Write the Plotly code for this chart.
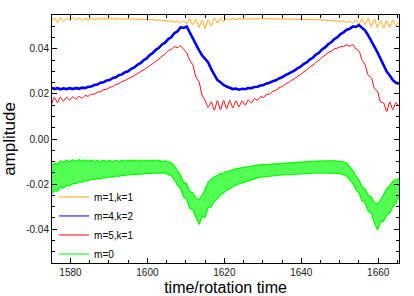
import numpy as np
import plotly.graph_objects as go

# sample times: regular grid starting at 1575.0, step 0.8 (rotation times)
t_start = 1575.0
t_step = 0.8

orange_m1k1 = [
    0.0525, 0.0537, 0.0518, 0.0539, 0.0524, 0.0537, 0.0528, 0.0539, 0.0530, 0.0537,
    0.0528, 0.0535, 0.0530, 0.0536, 0.0531, 0.0535, 0.0532, 0.0536, 0.0532, 0.0535,
    0.0533, 0.0535, 0.0533, 0.0535, 0.0532, 0.0534, 0.0532, 0.0534, 0.0531, 0.0533,
    0.0530, 0.0532, 0.0529, 0.0531, 0.0527, 0.0529, 0.0525, 0.0527, 0.0522, 0.0526,
    0.0519, 0.0524, 0.0516, 0.0525, 0.0513, 0.0534, 0.0508, 0.0532, 0.0496, 0.0528,
    0.0492, 0.0530, 0.0502, 0.0537, 0.0516, 0.0536, 0.0523, 0.0536, 0.0528, 0.0536,
    0.0530, 0.0536, 0.0532, 0.0535, 0.0533, 0.0535, 0.0533, 0.0535, 0.0534, 0.0535,
    0.0533, 0.0535, 0.0533, 0.0534, 0.0533, 0.0534, 0.0532, 0.0534, 0.0532, 0.0533,
    0.0531, 0.0533, 0.0531, 0.0532, 0.0530, 0.0531, 0.0529, 0.0530, 0.0528, 0.0529,
    0.0526, 0.0528, 0.0524, 0.0526, 0.0521, 0.0525, 0.0518, 0.0524, 0.0515, 0.0528,
    0.0511, 0.0535, 0.0507, 0.0537, 0.0500, 0.0532, 0.0495, 0.0528, 0.0493, 0.0526,
    0.0497, 0.0528, 0.0505, 0.0520,
]

blue_m4k2 = [
    0.0228, 0.0222, 0.0226, 0.0221, 0.0225, 0.0222, 0.0226, 0.0222, 0.0227, 0.0223,
    0.0228, 0.0226, 0.0232, 0.0233, 0.0240, 0.0242, 0.0250, 0.0252, 0.0260, 0.0262,
    0.0271, 0.0274, 0.0284, 0.0287, 0.0297, 0.0301, 0.0312, 0.0318, 0.0330, 0.0337,
    0.0350, 0.0358, 0.0373, 0.0382, 0.0396, 0.0405, 0.0420, 0.0428, 0.0444, 0.0452,
    0.0470, 0.0478, 0.0496, 0.0494, 0.0500, 0.0472, 0.0450, 0.0420, 0.0395, 0.0372,
    0.0355, 0.0340, 0.0310, 0.0285, 0.0262, 0.0252, 0.0240, 0.0233, 0.0228, 0.0222,
    0.0224, 0.0219, 0.0223, 0.0221, 0.0226, 0.0226, 0.0231, 0.0232, 0.0238, 0.0240,
    0.0247, 0.0250, 0.0257, 0.0261, 0.0269, 0.0274, 0.0283, 0.0289, 0.0298, 0.0304,
    0.0314, 0.0321, 0.0333, 0.0340, 0.0353, 0.0361, 0.0375, 0.0383, 0.0398, 0.0407,
    0.0421, 0.0430, 0.0444, 0.0452, 0.0466, 0.0474, 0.0486, 0.0490, 0.0500, 0.0498,
    0.0506, 0.0492, 0.0482, 0.0460, 0.0438, 0.0410, 0.0385, 0.0355, 0.0330, 0.0300,
    0.0282, 0.0262, 0.0250, 0.0245,
]

red_m5k1 = [
    0.0148, 0.0185, 0.0162, 0.0186, 0.0168, 0.0186, 0.0172, 0.0188, 0.0176, 0.0190,
    0.0182, 0.0193, 0.0190, 0.0199, 0.0199, 0.0208, 0.0210, 0.0219, 0.0221, 0.0230,
    0.0233, 0.0242, 0.0246, 0.0255, 0.0260, 0.0268, 0.0274, 0.0283, 0.0290, 0.0299,
    0.0307, 0.0316, 0.0326, 0.0335, 0.0346, 0.0355, 0.0368, 0.0377, 0.0392, 0.0398,
    0.0410, 0.0406, 0.0414, 0.0398, 0.0384, 0.0350, 0.0330, 0.0275, 0.0255, 0.0195,
    0.0172, 0.0140, 0.0165, 0.0128, 0.0170, 0.0130, 0.0172, 0.0135, 0.0172, 0.0138,
    0.0170, 0.0143, 0.0170, 0.0150, 0.0174, 0.0160, 0.0180, 0.0172, 0.0188, 0.0185,
    0.0198, 0.0200, 0.0212, 0.0216, 0.0227, 0.0233, 0.0243, 0.0250, 0.0260, 0.0268,
    0.0278, 0.0287, 0.0298, 0.0307, 0.0319, 0.0328, 0.0341, 0.0350, 0.0363, 0.0372,
    0.0384, 0.0390, 0.0400, 0.0404, 0.0410, 0.0412, 0.0418, 0.0412, 0.0420, 0.0400,
    0.0392, 0.0350, 0.0330, 0.0282, 0.0272, 0.0225, 0.0212, 0.0165, 0.0160, 0.0122,
    0.0165, 0.0130, 0.0162, 0.0145,
]

green_m0_upper = [
    -0.0120, -0.0108, -0.0112, -0.0098, -0.0104, -0.0094, -0.0100, -0.0093, -0.0099, -0.0092,
    -0.0098, -0.0093, -0.0099, -0.0094, -0.0100, -0.0095, -0.0100, -0.0095, -0.0100, -0.0095,
    -0.0100, -0.0095, -0.0099, -0.0094, -0.0099, -0.0094, -0.0098, -0.0094, -0.0098, -0.0094,
    -0.0098, -0.0094, -0.0098, -0.0094, -0.0098, -0.0095, -0.0099, -0.0097, -0.0102, -0.0106,
    -0.0120, -0.0140, -0.0160, -0.0190, -0.0200, -0.0232, -0.0240, -0.0262, -0.0270, -0.0250,
    -0.0225, -0.0192, -0.0182, -0.0168, -0.0163, -0.0153, -0.0151, -0.0144, -0.0141, -0.0136,
    -0.0133, -0.0130, -0.0127, -0.0124, -0.0122, -0.0120, -0.0118, -0.0116, -0.0115, -0.0113,
    -0.0112, -0.0111, -0.0110, -0.0108, -0.0107, -0.0106, -0.0105, -0.0104, -0.0103, -0.0102,
    -0.0102, -0.0101, -0.0100, -0.0100, -0.0099, -0.0099, -0.0098, -0.0098, -0.0097, -0.0097,
    -0.0097, -0.0097, -0.0097, -0.0098, -0.0099, -0.0101, -0.0108, -0.0122, -0.0140, -0.0165,
    -0.0182, -0.0212, -0.0222, -0.0250, -0.0258, -0.0282, -0.0290, -0.0272, -0.0248, -0.0222,
    -0.0208, -0.0188, -0.0183, -0.0175,
]

green_m0_lower = [
    -0.0245, -0.0230, -0.0232, -0.0215, -0.0218, -0.0205, -0.0208, -0.0197, -0.0199, -0.0190,
    -0.0192, -0.0184, -0.0186, -0.0179, -0.0181, -0.0175, -0.0177, -0.0171, -0.0173, -0.0167,
    -0.0169, -0.0164, -0.0166, -0.0161, -0.0163, -0.0158, -0.0160, -0.0156, -0.0158, -0.0154,
    -0.0156, -0.0152, -0.0154, -0.0151, -0.0153, -0.0150, -0.0152, -0.0152, -0.0157, -0.0163,
    -0.0180, -0.0205, -0.0220, -0.0258, -0.0268, -0.0308, -0.0315, -0.0352, -0.0380, -0.0345,
    -0.0348, -0.0305, -0.0302, -0.0276, -0.0266, -0.0246, -0.0240, -0.0226, -0.0222, -0.0211,
    -0.0207, -0.0200, -0.0195, -0.0190, -0.0185, -0.0180, -0.0177, -0.0173, -0.0170, -0.0168,
    -0.0166, -0.0164, -0.0163, -0.0162, -0.0161, -0.0160, -0.0159, -0.0158, -0.0157, -0.0156,
    -0.0155, -0.0154, -0.0153, -0.0153, -0.0152, -0.0152, -0.0151, -0.0151, -0.0151, -0.0151,
    -0.0151, -0.0152, -0.0152, -0.0153, -0.0155, -0.0158, -0.0165, -0.0180, -0.0198, -0.0225,
    -0.0240, -0.0275, -0.0285, -0.0320, -0.0330, -0.0372, -0.0405, -0.0368, -0.0365, -0.0338,
    -0.0330, -0.0300, -0.0285, -0.0255,
]

x_tick_vals = [1580, 1600, 1620, 1640, 1660]
x_tick_labels = ["1580", "1600", "1620", "1640", "1660"]
y_tick_vals = [-0.04, -0.02, 0.0, 0.02, 0.04]
y_tick_labels = ["-0.04", "-0.02", "0.00", "0.02", "0.04"]

series_names = ["m=1,k=1", "m=4,k=2", "m=5,k=1", "m=0"]
series_colors = ["#ffa500", "#0000ff", "#ff0000", "#00ff00"]

X_RANGE = [1575.2, 1665.4]
Y_RANGE = [-0.0551, 0.0551]


def times(values):
    return t_start + t_step * np.arange(len(values))


FONT = "Liberation Sans, Arial, sans-serif"
GREEN = series_colors[3]

fig = go.Figure()
# data traces (legend entries are drawn separately with thin lines)
fig.add_trace(go.Scatter(x=times(orange_m1k1), y=orange_m1k1, mode="lines", showlegend=False,
                         line=dict(color=series_colors[0], width=1, shape="spline", smoothing=0.6)))
fig.add_trace(go.Scatter(x=times(blue_m4k2), y=blue_m4k2, mode="lines", showlegend=False,
                         line=dict(color=series_colors[1], width=2.6)))
fig.add_trace(go.Scatter(x=times(red_m5k1), y=red_m5k1, mode="lines", showlegend=False,
                         line=dict(color=series_colors[2], width=1, shape="spline", smoothing=0.6)))
fig.add_trace(go.Scatter(x=times(green_m0_lower), y=green_m0_lower, mode="lines", showlegend=False,
                         line=dict(color=GREEN, width=1.2)))
fig.add_trace(go.Scatter(x=times(green_m0_upper), y=green_m0_upper, mode="lines", showlegend=False,
                         fill="tonexty", fillcolor="rgba(40,255,40,0.8)",
                         line=dict(color=GREEN, width=1.2)))

# legend entries
for name, color in zip(series_names, series_colors):
    fig.add_trace(go.Scatter(x=[None], y=[None], mode="lines", name=name,
                             line=dict(color=color, width=1)))

# helper axes on top / right to mirror major and minor ticks
fig.add_trace(go.Scatter(x=[None], y=[None], xaxis="x2", yaxis="y2", showlegend=False,
                         hoverinfo="skip"))

axis_common = dict(
    showline=True, linecolor="black", linewidth=1,
    ticks="inside", ticklen=5, tickwidth=1, tickcolor="black",
    showgrid=False, zeroline=False, automargin=False,
    tickfont=dict(family=FONT, size=10, color="#222"),
)
x_minor = dict(dtick=5, tick0=1575, ticks="inside", ticklen=3, tickcolor="black")
y_minor = dict(dtick=0.005, tick0=0, ticks="inside", ticklen=3, tickcolor="black")

fig.update_layout(
    xaxis=dict(
        range=X_RANGE, tickmode="array", tickvals=x_tick_vals, ticktext=x_tick_labels,
        minor=x_minor,
        title=dict(text="time/rotation time", font=dict(family=FONT, size=16, color="black"), standoff=5),
        **axis_common,
    ),
    yaxis=dict(
        range=Y_RANGE, tickmode="array", tickvals=y_tick_vals, ticktext=y_tick_labels,
        minor=y_minor,
        title=dict(text="amplitude", font=dict(family=FONT, size=17, color="black"), standoff=14),
        **axis_common,
    ),
    xaxis2=dict(
        range=X_RANGE, overlaying="x", side="top", anchor="y2", tickmode="array",
        tickvals=x_tick_vals, showticklabels=False, minor=x_minor, **axis_common,
    ),
    yaxis2=dict(
        range=Y_RANGE, overlaying="y", side="right", anchor="x2", tickmode="array",
        tickvals=y_tick_vals, showticklabels=False, minor=y_minor, **axis_common,
    ),
    width=414, height=296,
    margin=dict(l=52, r=15, t=15, b=33),
    paper_bgcolor="white", plot_bgcolor="white",
    showlegend=True,
    legend=dict(x=0.006, y=-0.022, xanchor="left", yanchor="bottom",
                traceorder="normal",
                bgcolor="rgba(0,0,0,0)", borderwidth=0,
                font=dict(family=FONT, size=10, color="black"),
                tracegroupgap=0),
)

# remove the default 8 px page margin so the figure fills the window exactly
fig.write_html("out.html", config={"displayModeBar": False},
               post_script="document.body.style.margin='0px';")
